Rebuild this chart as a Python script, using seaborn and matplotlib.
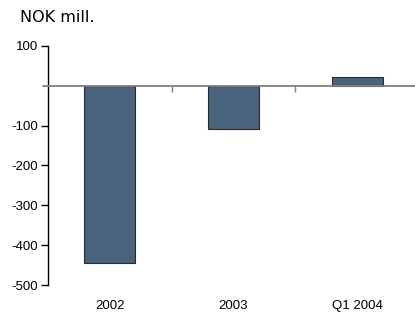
import matplotlib
matplotlib.use("Agg")
import matplotlib.pyplot as plt
import seaborn as sns
import pandas as pd

# data
periods = ["2002", "2003", "Q1 2004"]
result = [-445, -108, 22]
y_ticks = [100, -100, -200, -300, -400, -500]

df = pd.DataFrame({"period": periods, "result": result})

sns.set_style("white")
plt.rcParams["font.family"] = ["Liberation Sans", "DejaVu Sans"]
plt.rcParams["text.color"] = "black"
plt.rcParams["xtick.color"] = "black"
plt.rcParams["ytick.color"] = "black"

fig = plt.figure(figsize=(4.15, 3.13), dpi=100)
ax = fig.add_axes([48 / 415, 1 - 285 / 313, 371 / 415, 239 / 313])

sns.barplot(data=df, x="period", y="result", color="#48637b", saturation=1,
            width=0.41, edgecolor="#2b2b2b", linewidth=0.8, ax=ax, zorder=3)

ymin, ymax = -500, 100
ax.set_ylim(ymin, ymax)
ax.set_xlim(-0.5, 2.5)
ax.set_xlabel("")
ax.set_ylabel("")

ax.set_yticks(y_ticks)
ax.set_yticklabels([str(v) for v in y_ticks], fontsize=9.5, color="black")
ax.tick_params(axis="y", direction="out", length=5, width=1, color="black",
               left=True, pad=2)
ax.tick_params(axis="x", length=0, pad=11, labelsize=9.5, labelcolor="black")

for s in ["top", "right", "bottom"]:
    ax.spines[s].set_visible(False)
ax.spines["left"].set_color("black")
ax.spines["left"].set_linewidth(1)

# zero line with category separators
zero_pos = (0 - ymin) / (ymax - ymin)
sec = ax.secondary_xaxis(zero_pos)
sec.set_xticks([0.5, 1.5])
sec.set_xticklabels([])
sec.tick_params(direction="in", length=4, width=1, color="#808080")
sec.spines["bottom"].set_visible(False)
sec.spines["top"].set_visible(False)
sec.set_zorder(4)
ax.axhline(0, xmin=-5 / 371, xmax=1, color="#808080", lw=1.3, clip_on=False,
           zorder=4)

fig.text(20 / 415, 1 - 17 / 313, "NOK mill.", fontsize=11.5, va="center",
         ha="left", family="DejaVu Sans", color="black")

fig.savefig("out.png", dpi=100)
